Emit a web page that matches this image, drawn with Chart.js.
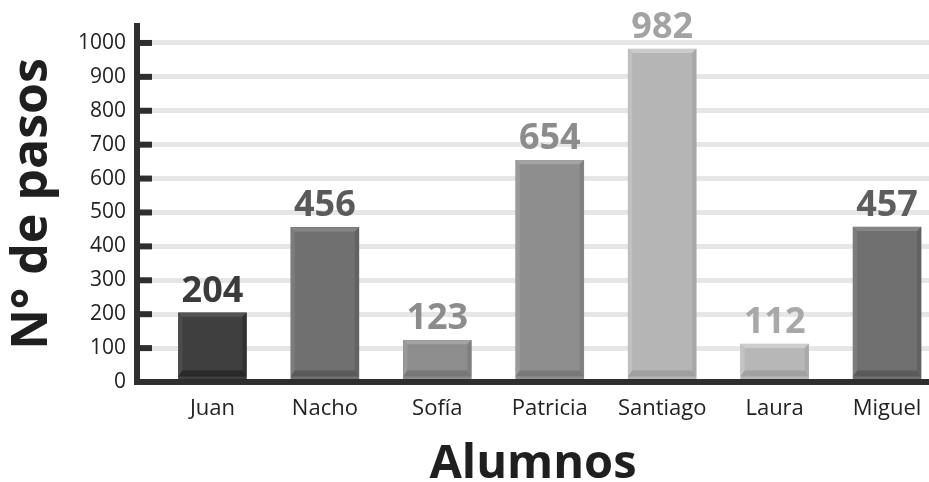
<!DOCTYPE html>
<html>
<head>
<meta charset="utf-8">
<script src="https://cdn.jsdelivr.net/npm/chart.js@4/dist/chart.umd.min.js"></script>
<style>
  html, body { margin: 0; padding: 0; background: #ffffff; }
  #wrap { width: 929px; height: 482px; }
</style>
</head>
<body>
<div id="wrap"><canvas id="c" width="929" height="482"></canvas></div>
<script>
// ---- data ----
const categories = ["Juan", "Nacho", "Sofía", "Patricia", "Santiago", "Laura", "Miguel"];
const pasos = [204, 456, 123, 654, 982, 112, 457];
const yTickValues = [0, 100, 200, 300, 400, 500, 600, 700, 800, 900, 1000];

// ---- style ----
const barColors = ["#3f3f3f", "#707070", "#8d8d8d", "#8e8e8e", "#b5b5b5", "#b7b7b7", "#707070"];
const labelColors = ["#3b3b3b", "#5a5a5a", "#8c8c8c", "#8c8c8c", "#a3a3a3", "#a8a8a8", "#5e5e5e"];
const FONT = '"Open Sans", "Noto Sans", sans-serif';
const AXIS = '#2e2e2e';

function shade(hex, d) {
  const n = parseInt(hex.slice(1), 16);
  const c = [(n >> 16) & 255, (n >> 8) & 255, n & 255].map(v => Math.max(0, Math.min(255, v + d)));
  return 'rgb(' + c.join(',') + ')';
}

const bevelPlugin = {
  id: 'bevel',
  afterDatasetsDraw(chart) {
    const ctx = chart.ctx;
    const meta = chart.getDatasetMeta(0);
    meta.data.forEach((bar, i) => {
      const p = bar.getProps(['x', 'y', 'base', 'width'], true);
      const l = p.x - p.width / 2, r = p.x + p.width / 2, t = p.y, b = p.base - 3;
      const w = 4, bw = 6;
      const base = barColors[i];
      ctx.save();
      ctx.fillStyle = shade(base, 22);
      ctx.beginPath(); ctx.moveTo(l, t); ctx.lineTo(r, t); ctx.lineTo(r - w, t + w); ctx.lineTo(l + w, t + w); ctx.closePath(); ctx.fill();
      ctx.fillStyle = shade(base, 12);
      ctx.beginPath(); ctx.moveTo(l, t); ctx.lineTo(l + w, t + w); ctx.lineTo(l + w, b - bw); ctx.lineTo(l, b); ctx.closePath(); ctx.fill();
      ctx.fillStyle = shade(base, -14);
      ctx.beginPath(); ctx.moveTo(r, t); ctx.lineTo(r - w, t + w); ctx.lineTo(r - w, b - bw); ctx.lineTo(r, b); ctx.closePath(); ctx.fill();
      ctx.fillStyle = shade(base, -22);
      ctx.beginPath(); ctx.moveTo(l, b); ctx.lineTo(l + w, b - bw); ctx.lineTo(r - w, b - bw); ctx.lineTo(r, b); ctx.closePath(); ctx.fill();
      ctx.fillStyle = labelColors[i];
      ctx.font = 'bold 36px ' + FONT;
      ctx.textAlign = 'center';
      ctx.textBaseline = 'alphabetic';
      ctx.fillText(String(pasos[i]), p.x, p.y - 11);
      ctx.restore();
    });
  },
  afterDraw(chart) {
    const ctx = chart.ctx;
    const ys = chart.scales.y;
    const left = chart.chartArea.left;
    ctx.save();
    ctx.strokeStyle = AXIS;
    ctx.lineWidth = 6;
    yTickValues.forEach(v => {
      if (v === 0) return;
      const py = ys.getPixelForValue(v);
      ctx.beginPath(); ctx.moveTo(left - 3, py); ctx.lineTo(left + 15, py); ctx.stroke();
    });
    ctx.restore();
  }
};

new Chart(document.getElementById('c'), {
  type: 'bar',
  data: {
    datasets: [{
      data: pasos.map((v, i) => ({ x: i, y: v })),
      backgroundColor: barColors,
      borderWidth: 0,
      barThickness: 68
    }]
  },
  options: {
    responsive: false,
    animation: false,
    devicePixelRatio: 1,
    layout: { padding: { top: 26, left: 0, right: 0, bottom: 0 } },
    plugins: { legend: { display: false }, tooltip: { enabled: false } },
    scales: {
      x: {
        type: 'linear',
        offset: false,
        min: -0.671,
        max: 6.373,
        afterBuildTicks: s => { s.ticks = categories.map((_, i) => ({ value: i })); },
        afterFit: s => { s.height = 100; s.paddingLeft = 0; s.paddingRight = 0; },
        grid: { display: false, drawTicks: false, offset: false },
        border: { display: true, color: AXIS, width: 6, z: 1 },
        ticks: {
          padding: 14,
          color: '#222',
          font: { family: FONT, size: 22 },
          maxRotation: 0,
          autoSkip: false,
          callback: v => categories[v]
        },
        title: {
          display: true,
          text: 'Alumnos',
          color: '#1f1f1f',
          font: { family: FONT, size: 47, weight: 'bold', lineHeight: 1 },
          padding: { top: 0, bottom: -6 }
        }
      },
      y: {
        min: 0,
        max: 1050,
        afterBuildTicks: s => { s.ticks = yTickValues.map(v => ({ value: v })); },
        afterFit: s => { s.width = 137; s.paddingTop = 0; s.paddingBottom = 0; },
        grid: {
          color: ctx => (ctx.tick && ctx.tick.value === 0) ? 'rgba(0,0,0,0)' : '#e6e6e6',
          lineWidth: 5,
          drawTicks: false
        },
        border: { display: true, color: AXIS, width: 6, z: 1 },
        ticks: {
          padding: 11,
          color: '#222',
          font: { family: FONT, size: 21 },
          callback: v => String(v)
        },
        title: {
          display: true,
          text: 'N° de pasos',
          color: '#1f1f1f',
          font: { family: FONT, size: 50, weight: 'bold', lineHeight: 1 },
          padding: { top: 8, bottom: 0 }
        }
      }
    }
  },
  plugins: [bevelPlugin]
});
</script>
</body>
</html>
